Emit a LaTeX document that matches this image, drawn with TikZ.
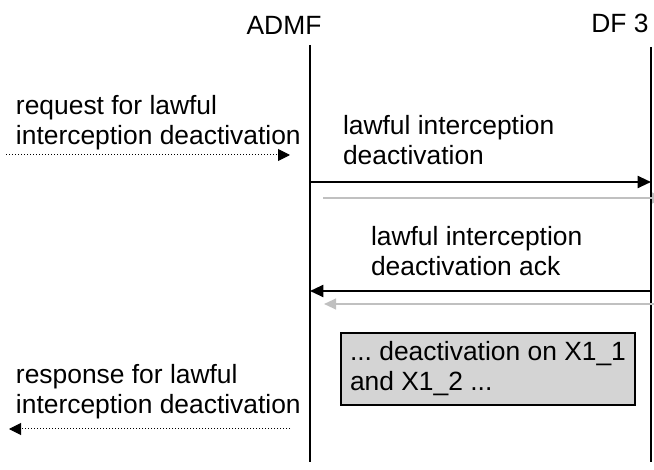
\documentclass[tikz,border=0pt]{standalone}
\usepackage{fontspec}
\setmainfont{Liberation Sans}
\usetikzlibrary{arrows.meta}

\tikzset{every picture/.style={line width=1.5pt}}
\tikzset{
  txt/.style={anchor=base west, inner sep=0pt, align=left},
  msg/.style={draw=black, -{Triangle[length=10pt,width=9pt]}},
  echo/.style={draw=lightgrey, -{Triangle[length=9pt,width=8pt]}},
  ext/.style={line width=0.75pt, dash pattern=on 0.75pt off 1.5pt, -{Triangle[length=9pt,width=9pt]}},
}
\definecolor{lightgrey}{RGB}{192,192,192}
\definecolor{boxgrey}{RGB}{212,212,212}

\begin{document}
\begin{tikzpicture}[x=0.75pt,y=0.75pt,yscale=-1,xscale=1,font=\fontsize{19.8}{22.5}\selectfont\frenchspacing]
    \useasboundingbox (0,0) rectangle (654,470);
    % Lifeline heads
    \node (admf) [anchor=base, inner sep=0pt] at (284,35) {ADMF};
    \node (df3) [anchor=base, inner sep=0pt] at (620,33) {DF 3};
    % Lifelines
    \coordinate (admf top) at (310,45);
    \coordinate (admf end) at (310,462);
    \coordinate (df3 top) at (651,47);
    \coordinate (df3 end) at (651,462);
    \draw (admf top) -- (admf end);
    \draw (df3 top) -- (df3 end);
    % Text Node (anchored on last baseline)
    \node (req) [txt] at (15,145) {request for lawful\\interception deactivation};
    \coordinate (req start) at (6,155);
    \coordinate (req end) at (290,155);
    \draw [ext] (req start) -- (req end);
    % Text Node
    \node (deact) [txt] at (342,165) {lawful interception\\deactivation};
    \coordinate (deact from) at (310,182);
    \coordinate (deact to) at (651,182);
    \draw [msg] (deact from) -- (deact to);
    \coordinate (echo1 from) at (323,198);
    \coordinate (echo1 to) at (664,198);
    \draw [echo] (echo1 from) -- (echo1 to);
    % Text Node
    \node (ack) [txt] at (370,276) {lawful interception\\deactivation ack};
    \coordinate (ack from) at (651,291);
    \coordinate (ack to) at (310,291);
    \draw [msg] (ack from) -- (ack to);
    \coordinate (echo2 from) at (654,304);
    \coordinate (echo2 to) at (324,304);
    \draw [echo] (echo2 from) -- (echo2 to);
    % Box
    \node (xbox) [anchor=north west, draw, fill=boxgrey, inner sep=0pt, minimum width=220.5pt, minimum height=54pt, align=left] at (340,332) {... deactivation on X1\_1\\and X1\_2 ...};
    % Text Node
    \node (resp) [txt] at (15,414) {response for lawful\\interception deactivation};
    \coordinate (resp start) at (290,429);
    \coordinate (resp end) at (9,429);
    \draw [ext] (resp start) -- (resp end);
\end{tikzpicture}
\end{document}
